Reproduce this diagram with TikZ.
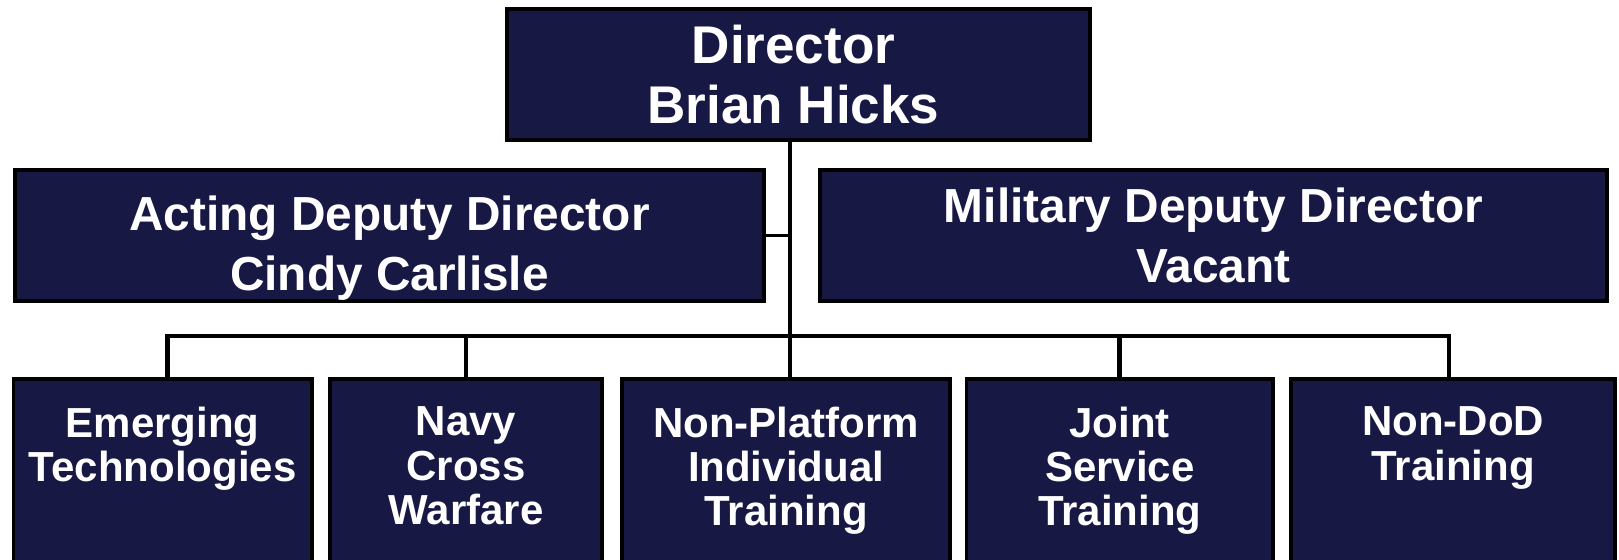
\documentclass[tikz,border=0pt]{standalone}
\usepackage{fontspec}
\setmainfont{Liberation Sans}
\usepackage{tikz}
\usetikzlibrary{positioning}
\definecolor{navy}{RGB}{24,24,68}

\begin{document}
\begin{tikzpicture}[
  box/.style={draw=black, line width=1pt, fill=navy, minimum height=1.31cm, inner sep=0pt},
  unit/.style={draw=black, line width=1pt, fill=navy, minimum height=2.41cm, inner sep=0pt},
  title/.style={text=white, align=center, inner sep=0pt, font=\bfseries\fontsize{13.6}{17}\selectfont},
  unitname/.style={text=white, align=center, inner sep=0pt, font=\bfseries\fontsize{11.95}{12.6}\selectfont},
  link/.style={line width=1.4pt}
]

\useasboundingbox (0,0) rectangle (16.19,-5.60) ;
\clip (0,0) rectangle (16.19,-5.60) ;

\coordinate (hub) at (7.90,-3.36) ;

% top level
\node[box, minimum width=5.83cm] (dir) at (7.985,-0.745) {} ;
\node[text=white, align=center, inner sep=0pt,
      font=\bfseries\fontsize{15.1}{17.07}\selectfont] (dirtxt) at ([xshift=-0.05cm]dir.center) {Director\\Brian Hicks} ;

\node[box, minimum width=7.49cm] (act) at (3.895,-2.355) {} ;
\node[box, minimum width=7.87cm] (mil) at (12.135,-2.355) {} ;
\node[title, below=0.27cm of act.north] (acttxt) {Acting Deputy Director\\Cindy Carlisle} ;
\node[title, below=0.19cm of mil.north] (miltxt) {Military Deputy Director\\Vacant} ;

% units
\node[unit, minimum width=2.985cm] (et) at (1.6275,-4.995) {} ;
\node[unit, minimum width=2.72cm] (ncw) at (4.66,-4.995) {} ;
\node[unit, minimum width=3.28cm] (npit) at (7.86,-4.995) {} ;
\node[unit, minimum width=3.065cm] (jst) at (11.1975,-4.995) {} ;
\node[unit, minimum width=3.24cm] (ndt) at (14.53,-4.995) {} ;

\node[unitname, below=0.29cm of et.north] (ettxt) {Emerging\\Technologies} ;
\node[unitname, below=0.29cm of ncw.north] (ncwtxt) {Navy\\Cross\\Warfare} ;
\node[unitname, below=0.29cm of npit.north] (npittxt) {Non-Platform\\Individual\\Training} ;
\node[unitname, below=0.29cm of jst.north] (jsttxt) {Joint\\Service\\Training} ;
\node[unitname, below=0.29cm of ndt.north] (ndttxt) {Non-DoD\\Training} ;

% lines
\draw[link] (dir.south -| hub) -- (npit.north -| hub) ;
\draw[line width=0.8pt] (act.east) -- (act.east -| hub) ;
\draw[link] ([xshift=0.05cm]et.north) |- (hub) -| ([xshift=-0.04cm]ndt.north) ;
\draw[link] (ncw.north) -- (ncw.north |- hub) ;
\draw[link] (jst.north) -- (jst.north |- hub) ;

\end{tikzpicture}
\end{document}
